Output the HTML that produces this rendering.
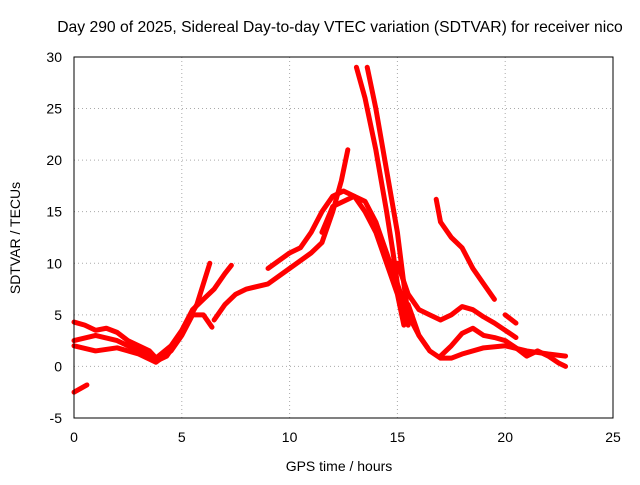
<!DOCTYPE html>
<html><head><meta charset="utf-8"><style>
body{margin:0;background:#fff}
svg{font-family:"Liberation Sans",sans-serif;font-size:14px}
</style></head><body>
<svg id="c" width="640" height="480">
<text x="340" y="32" text-anchor="middle" style="font-size:15.7px">Day 290 of 2025, Sidereal Day-to-day VTEC variation (SDTVAR) for receiver nico</text>
<text x="339" y="471" text-anchor="middle">GPS time / hours</text>
<text transform="translate(20,238) rotate(-90)" text-anchor="middle">SDTVAR / TECUs</text>
<g id="grid"></g><g id="ticks"></g><g id="marks"></g>
<rect x="74" y="57" width="539" height="361" fill="none" stroke="#000"/>
</svg>
<script>
const xTicks=[0,5,10,15,20,25];
const yTicks=[-5,0,5,10,15,20,25,30];
const t1=[[0,4.3],[0.5,4],[1,3.5],[1.5,3.7],[2,3.3],[2.5,2.5],[3,2],[3.5,1.5],[3.9,0.6],[4.3,1],[4.8,2.5],[5.3,4.5],[5.7,6],[6,8],[6.3,10]];
const t2=[[0,2.5],[1,3],[2,2.5],[3,1.5],[3.8,0.8],[4.5,2],[5,3.5],[5.5,5.5],[6,6.5],[6.5,7.5],[7,9],[7.3,9.8]];
const t3=[[0,2],[1,1.5],[2,1.8],[3,1.2],[3.8,0.4],[4.5,1.5],[5,3],[5.5,5],[6,5],[6.4,3.8]];
const t4=[[6.5,4.5],[7,6],[7.5,7],[8,7.5],[9,8],[10,9.5],[11,11],[11.5,12],[12,15],[12.4,18],[12.7,21]];
const t5=[[9,9.5],[10,11],[10.5,11.5],[11,13],[11.5,15],[12,16.5],[12.5,17],[13,16.5],[13.5,15],[14,13],[14.5,10],[15,7],[15.3,4]];
const t6=[[11.5,13],[12,15.5],[13,16.5],[13.5,16],[14,14],[14.5,11],[15,8],[15.5,5],[16,3],[16.4,1.8]];
const t7=[[13.1,29],[13.5,26],[14,21],[14.5,15],[14.8,11],[15,8],[15.3,5],[15.5,4]];
const t8=[[13.6,29],[14,25],[14.5,19],[15,13],[15.3,8],[15.5,5]];
const t9=[[15,10],[15.5,7],[16,5.5],[16.5,5],[17,4.5],[17.5,5],[18,5.8],[18.5,5.5],[19,4.8],[19.5,4.2],[20,3.5],[20.5,2.8]];
const t10=[[15.5,6],[16,3],[16.5,1.5],[17,0.8],[17.5,0.8],[18,1.2],[19,1.8],[20,2],[21,1.5],[22,1.2],[22.8,1.0]];
const t11=[[16.8,16.2],[17,14],[17.5,12.5],[18,11.5],[18.5,9.5],[19,8],[19.5,6.5]];
const t12=[[17,1],[17.5,2],[18,3.2],[18.5,3.7],[19,3],[19.5,2.8],[20,2.5],[20.5,1.8],[21,1],[21.5,1.5],[22,1],[22.5,0.3],[22.8,0]];
const t13=[[20,5],[20.5,4.2]];
const t14=[[0,-2.5],[0.6,-1.8]];
const series=[t1,t2,t3,t4,t5,t6,t7,t8,t9,t10,t11,t12,t13,t14];
const X=v=>74+v*539/25, Y=v=>366.4-v*361/35;
const NS="http://www.w3.org/2000/svg";
const g=document.getElementById('grid'),tk=document.getElementById('ticks'),m=document.getElementById('marks');
function mk(p,tag,a){const e=document.createElementNS(NS,tag);for(const k in a)e.setAttribute(k,a[k]);p.appendChild(e);return e;}
xTicks.forEach(t=>{
 const l=mk(g,'line',{x1:X(t),x2:X(t),y1:57,y2:418,stroke:'#aaa','stroke-dasharray':'1,3'});
 
 
 const s=mk(tk,'text',{x:X(t),y:442,'text-anchor':'middle'});s.textContent=t;
 
 
});
yTicks.forEach(t=>{
 const l=mk(g,'line',{x1:74,x2:613,y1:Y(t),y2:Y(t),stroke:'#aaa','stroke-dasharray':'1,3'});
 
 
 const s=mk(tk,'text',{x:62,y:Y(t)+5,'text-anchor':'end'});s.textContent=t;
 
 
});
series.forEach((s,i)=>{
 const p=mk(m,'polyline',{points:s.map(d=>X(d[0])+','+Y(d[1])).join(' '),fill:'none',stroke:'#f00','stroke-width':5,'stroke-linejoin':'round','stroke-linecap':'round'});
 
 
});
</script>
</body></html>
